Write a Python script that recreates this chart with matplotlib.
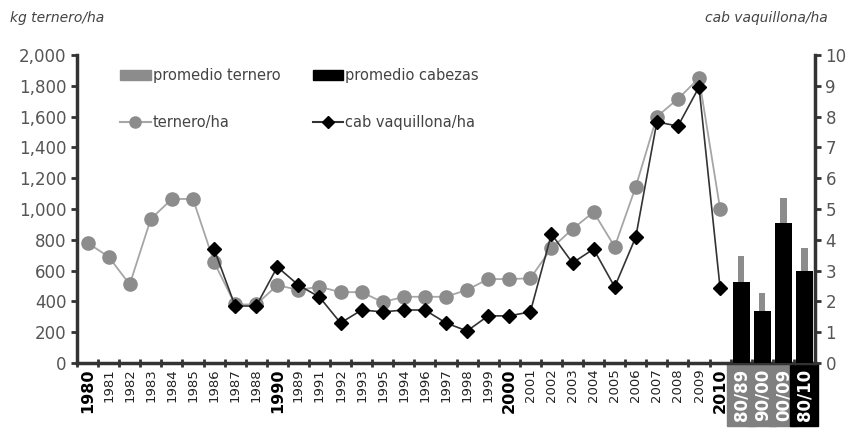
import numpy as np
import matplotlib as mpl
mpl.use('Agg')
import matplotlib.pyplot as plt
from matplotlib.ticker import FuncFormatter, FixedLocator
from matplotlib.patches import Patch
from matplotlib.lines import Line2D

mpl.rcParams['font.family'] = 'DejaVu Sans'

# categories on the x axis (order as in the original figure)
labels = ["1980", "1981", "1982", "1983", "1984", "1985", "1986", "1987", "1988",
          "1990", "1989", "1991", "1992", "1993", "1995", "1994", "1996", "1997",
          "1998", "1999", "2000", "2001", "2002", "2003", "2004", "2005", "2006",
          "2007", "2008", "2009", "2010", "80/89", "90/00", "00/09", "80/10"]
bold_labels = ["1980", "1990", "2000", "2010"]
period_labels = ["80/89", "90/00", "00/09", "80/10"]

# kg ternero/ha (left axis), one per year label
ternero = [780, 690, 510, 935, 1065, 1065, 655, 380, 380, 505, 475, 495, 460, 460,
           395, 430, 430, 430, 475, 545, 545, 550, 745, 870, 980, 755, 1145, 1600,
           1715, 1850, 1000]
# cab vaquillona/ha (right axis), starts 1986
cab = [np.nan] * 6 + [3.70, 1.85, 1.85, 3.12, 2.53, 2.14, 1.30, 1.72, 1.66, 1.72,
                      1.72, 1.30, 1.04, 1.53, 1.53, 1.66, 4.19, 3.25, 3.70, 2.47,
                      4.09, 7.83, 7.69, 8.96, 2.43]
# period averages
prom_ternero = [695, 455, 1070, 745]
prom_cabezas = [2.63, 1.69, 4.55, 2.99]

DPI = 100
fig = plt.figure(figsize=(861 / DPI, 432 / DPI), dpi=DPI)
ax = fig.add_axes([77 / 861, 69 / 432, 738 / 861, 308 / 432])
ax2 = ax.twinx()

x = np.arange(len(labels))
xy = x[:len(ternero)]
xb = x[len(ternero):]

ax.bar(xb, prom_ternero, width=0.3, color="#8c8c8c", zorder=1)
ax.plot(xy, ternero, color="#a6a6a6", linewidth=1.3, marker="o", markersize=9.5,
        markerfacecolor="#8c8c8c", markeredgecolor="#8c8c8c", zorder=2)
ax2.bar(xb, prom_cabezas, width=0.8, color="black", zorder=1)
ax2.plot(xy, cab, color="#333333", linewidth=1.2, marker="D", markersize=7.5,
         markerfacecolor="black", markeredgecolor="black", zorder=3)

ax.set_xlim(-0.5, len(labels) - 0.5)
ax.set_ylim(0, 2000)
ax2.set_ylim(0, 10)
ax.set_yticks(np.arange(0, 2001, 200))
ax.yaxis.set_major_formatter(FuncFormatter(lambda v, p: f"{int(v):,}"))
ax2.set_yticks(np.arange(0, 11, 1))

for a in (ax, ax2):
    a.spines['top'].set_visible(False)
    for s in ('left', 'right', 'bottom'):
        a.spines[s].set_linewidth(2.5)
        a.spines[s].set_color("#333333")
    a.tick_params(axis='y', direction='out', length=4, width=2, color="#333333",
                  labelsize=12, labelcolor="#555555")
ax.spines['right'].set_visible(False)
ax2.spines['left'].set_visible(False)
ax2.spines['bottom'].set_visible(False)

# x ticks: marks at category borders, labels at centres
ax.xaxis.set_major_locator(FixedLocator(np.arange(-0.5, len(labels), 1.0)))
ax.tick_params(axis='x', which='major', direction='inout', length=6, width=2,
               color="#333333", labelbottom=False)
ax.set_xticks(x, minor=True)
ax.set_xticklabels(labels, minor=True, rotation=90)
ax.tick_params(axis='x', which='minor', length=0, pad=4)
for t in ax.get_xticklabels(minor=True):
    s = t.get_text()
    if s in bold_labels:
        t.set_fontsize(11.5)
        t.set_fontweight('bold')
        t.set_color("black")
    elif s in period_labels:
        t.set_fontsize(12)
        t.set_fontweight('bold')
        t.set_color("white")
        fc = "black" if s == "80/10" else "#808080"
        t.set_bbox(dict(boxstyle="square,pad=0.3", facecolor=fc, edgecolor=fc))
    else:
        t.set_fontsize(9.5)
        t.set_color("#222222")

fig.text(10 / 861, 1 - 18 / 432, "kg ternero/ha", style='italic', fontsize=10,
         color="#444444", va='center', ha='left')
fig.text(828 / 861, 1 - 18 / 432, "cab vaquillona/ha", style='italic', fontsize=10,
         color="#444444", va='center', ha='right')

handles = [Patch(facecolor="#8c8c8c", edgecolor="#8c8c8c"),
           Line2D([], [], color="#a6a6a6", marker="o", markersize=8,
                  markerfacecolor="#8c8c8c", markeredgecolor="#8c8c8c"),
           Patch(facecolor="black", edgecolor="black"),
           Line2D([], [], color="#333333", marker="D", markersize=6,
                  markerfacecolor="black", markeredgecolor="black")]
names = ["promedio ternero", "ternero/ha", "promedio cabezas", "cab vaquillona/ha"]
leg = ax2.legend(handles, names, ncol=2, frameon=False, fontsize=10.5,
                 loc='upper left', bbox_to_anchor=(30 / 738, 1.0),
                 handlelength=2.1, handletextpad=0.15, labelspacing=2.2,
                 columnspacing=2.2)
for t in leg.get_texts():
    t.set_color("#444444")

fig.savefig("out.png", dpi=DPI)
